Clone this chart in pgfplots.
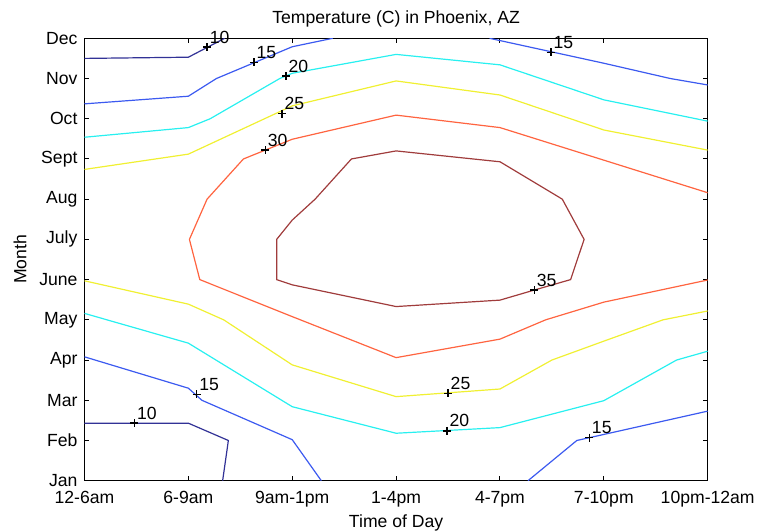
\documentclass[border=0pt]{standalone}
\usepackage{fontspec}
\setmainfont{Liberation Sans}
\usepackage{pgfplots}
\pgfplotsset{compat=1.18}

\definecolor{c10}{RGB}{50,50,150}
\definecolor{c15}{RGB}{60,90,240}
\definecolor{c20}{RGB}{40,240,240}
\definecolor{c25}{RGB}{240,240,50}
\definecolor{c30}{RGB}{255,100,64}
\definecolor{c35}{RGB}{160,60,60}

\begin{document}
\begin{tikzpicture}[font=\fontsize{8.8}{10.5}\selectfont]
\begin{axis}[
    at={(0,0)}, anchor=south west,
    scale only axis,
    width=311.6pt, height=221.2pt,
    xmin=1, xmax=7, ymin=1, ymax=12,
    xtick={1,...,7},
    xticklabels={12-6am,6-9am,9am-1pm,1-4pm,4-7pm,7-10pm,10pm-12am},
    ytick={1,...,12},
    yticklabels={Jan,Feb,Mar,Apr,May,June,July,Aug,Sept,Oct,Nov,Dec},
    tick align=inside, tick pos=both,
    major tick length=2.5pt,
    every tick/.style={black, line width=0.5pt},
    axis line style={line width=0.6pt},
    xticklabel style={anchor=base, yshift=-11.2pt},
    title={Temperature (C) in Phoenix, AZ},
    every axis title shift=0pt,
    title style={at={(axis description cs:0.5,1.0344)}, anchor=base, yshift=0pt},
    xlabel={Time of Day},
    xlabel style={at={(axis description cs:0.5,-0.1049)}, anchor=base},
    ylabel={Month},
    ylabel style={at={(axis description cs:-0.1035,0.5)}, anchor=center},
    every axis plot/.append style={line width=0.6pt},
]

% contour 10
\addplot[c10] coordinates {(1,11.50) (2,11.53) (2.35,12)};
\addplot[c10] coordinates {(1,2.43) (2,2.43) (2.385,2.0) (2.33,1)};

% contour 15
\addplot[c15] coordinates {(1,10.37) (2,10.56) (2.27,11.0) (3,11.79) (3.39,12)};
\addplot[c15] coordinates {(4.90,12) (6,11.38) (6.64,11.0) (7,10.84)};
\addplot[c15] coordinates {(1,4.08) (2,3.30) (2.13,3.0) (3,2.02) (3.28,1)};
\addplot[c15] coordinates {(5.27,1) (5.74,2.0) (6,2.15) (7,2.73)};

% contour 20
\addplot[c20] coordinates {(1,9.54) (2,9.78) (2.21,10.0) (2.88,11.0) (3,11.13) (4,11.60) (5,11.34) (6,10.47) (7,9.94)};
\addplot[c20] coordinates {(1,5.16) (2,4.42) (3,2.84) (4,2.18) (5,2.32) (6,2.99) (6.70,4.0) (7,4.22)};

% contour 25
\addplot[c25] coordinates {(1,8.74) (2,9.12) (3,10.32) (4,10.94) (5,10.59) (6,9.72) (7,9.22)};
\addplot[c25] coordinates {(1,5.97) (2,5.39) (2.34,5.0) (3,3.88) (4,3.09) (5,3.28) (5.5,4.0) (6,4.47) (6.57,5.0) (7,5.22)};

% contour 30
\addplot[c30] coordinates {(7,8.16) (5,9.78) (4,10.09) (3,9.49) (2.53,9.0) (2.18,8.0) (2.01,7.0) (2.11,6.0) (3,5.08) (4,4.06) (5,4.52) (5.44,5.0) (6,5.44) (7,5.99)};

% contour 35
\addplot[c35] coordinates {(2.85,7.0) (3.0,7.48) (3.22,8.0) (3.57,9.0) (4,9.20) (5,8.93) (5.60,8.0) (5.81,7.0) (5.68,6.0) (5.33,5.74) (5,5.49) (4,5.33) (3,5.87) (2.85,6.0) (2.85,7.0)};

% contour labels
\addplot[only marks, mark=+, mark size=2pt, black,
    mark options={line width=0.7pt},
    point meta=explicit symbolic,
    nodes near coords,
    every node near coord/.style={anchor=south west, inner sep=0pt, xshift=1pt, yshift=1.5pt, black}]
  coordinates {
    (2.18,11.78) [10]
    (1.48,2.43) [10]
    (2.63,11.40) [15]
    (5.49,11.65) [15]
    (2.08,3.15) [15]
    (5.86,2.07) [15]
    (2.94,11.06) [20]
    (4.49,2.24) [20]
    (2.90,10.13) [25]
    (4.50,3.17) [25]
    (2.74,9.22) [30]
    (5.33,5.74) [35]
  };

\end{axis}
\pgfresetboundingbox
\path[use as bounding box] (-42.25pt,-25.15pt) rectangle (338.25pt,240.35pt);
\end{tikzpicture}
\end{document}
